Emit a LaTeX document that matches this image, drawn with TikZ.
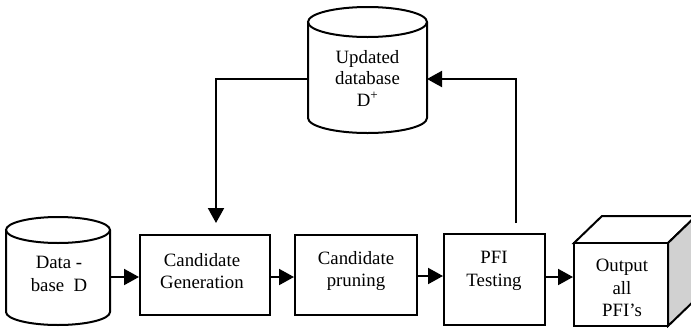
\documentclass[tikz,border=0pt]{standalone}
\usepackage{fontspec}
\setmainfont{Liberation Serif}
\usetikzlibrary{arrows.meta}
\tikzset{
  ln/.style={line width=2pt, line join=miter},
  arr/.style={ln, -{Triangle[length=15pt,width=16pt]}},
  procbox/.style={draw, line width=2pt, inner sep=0pt},
  lbl/.style={align=center, font=\fontsize{18.8}{22.8}\selectfont, inner sep=0pt},
}
\begin{document}
\begin{tikzpicture}[x=1pt,y=1pt]
\useasboundingbox (0,0) rectangle (691,-327);
% Database D cylinder
\draw[ln, fill=white] (6,-230) -- (6,-312) arc[start angle=180,end angle=360,x radius=52,y radius=13] -- (110,-230);
\draw[ln] (58,-230) ellipse[x radius=52, y radius=13];
\node[lbl] (dbtext) at (59,-274) {Data -\\base\ \ D};
\coordinate (dbR) at (110,-277);
% Updated database cylinder
\draw[ln] (308,-22) -- (308,-118) arc[start angle=180,end angle=360,x radius=59.5,y radius=15] -- (427,-22);
\draw[ln] (367.5,-22) ellipse[x radius=59.5, y radius=15];
\node[lbl, font=\fontsize{18.8}{21.5}\selectfont] (udtext) at (367.5,-78) {Updated\\database\\D\textsuperscript{+}};
\coordinate (udL) at (308,-79);
\coordinate (udR) at (427,-79);
% Boxes
\node[procbox, minimum width=130pt, minimum height=80pt] (cg) at (205,-275) {};
\node[lbl] at (202,-271) {Candidate\\Generation};
\node[procbox, minimum width=122pt, minimum height=80pt] (cp) at (356,-275) {};
\node[lbl] at (356,-271) {Candidate\\pruning};
\node[procbox, minimum width=101pt, minimum height=91pt] (pfi) at (494.5,-279.5) {};
\node[lbl] at (494,-271) {PFI\\Testing};
% Cube
\filldraw[ln, fill=white] (574,-243) -- (602,-216) -- (696,-216) -- (668,-243) -- cycle;
\filldraw[ln, fill=black!18] (668,-243) -- (696,-216) -- (696,-299) -- (668,-326) -- cycle;
\node[procbox, fill=white, minimum width=94pt, minimum height=83pt] (out) at (621,-284.5) {};
\node[lbl] at (622,-288) {Output\\all\\PFI’s};
% horizontal arrows
\draw[arr] (dbR) -- (dbR -| cg.west);
\draw[arr] (cg.east |- 0,-277) -- (cp.west |- 0,-277);
\draw[arr] (cp.east |- 0,-276) -- (pfi.west |- 0,-276);
\draw[arr] (pfi.east |- 0,-277) -- (out.west |- 0,-277);
% feedback
\coordinate (cgin) at (216,-223);
\coordinate (pfiout) at (516,-223);
\draw[arr] (udL) -- (216,-79) -- (cgin);
\draw[arr] (pfiout) -- (516,-79) -- (udR);
\end{tikzpicture}
\end{document}
